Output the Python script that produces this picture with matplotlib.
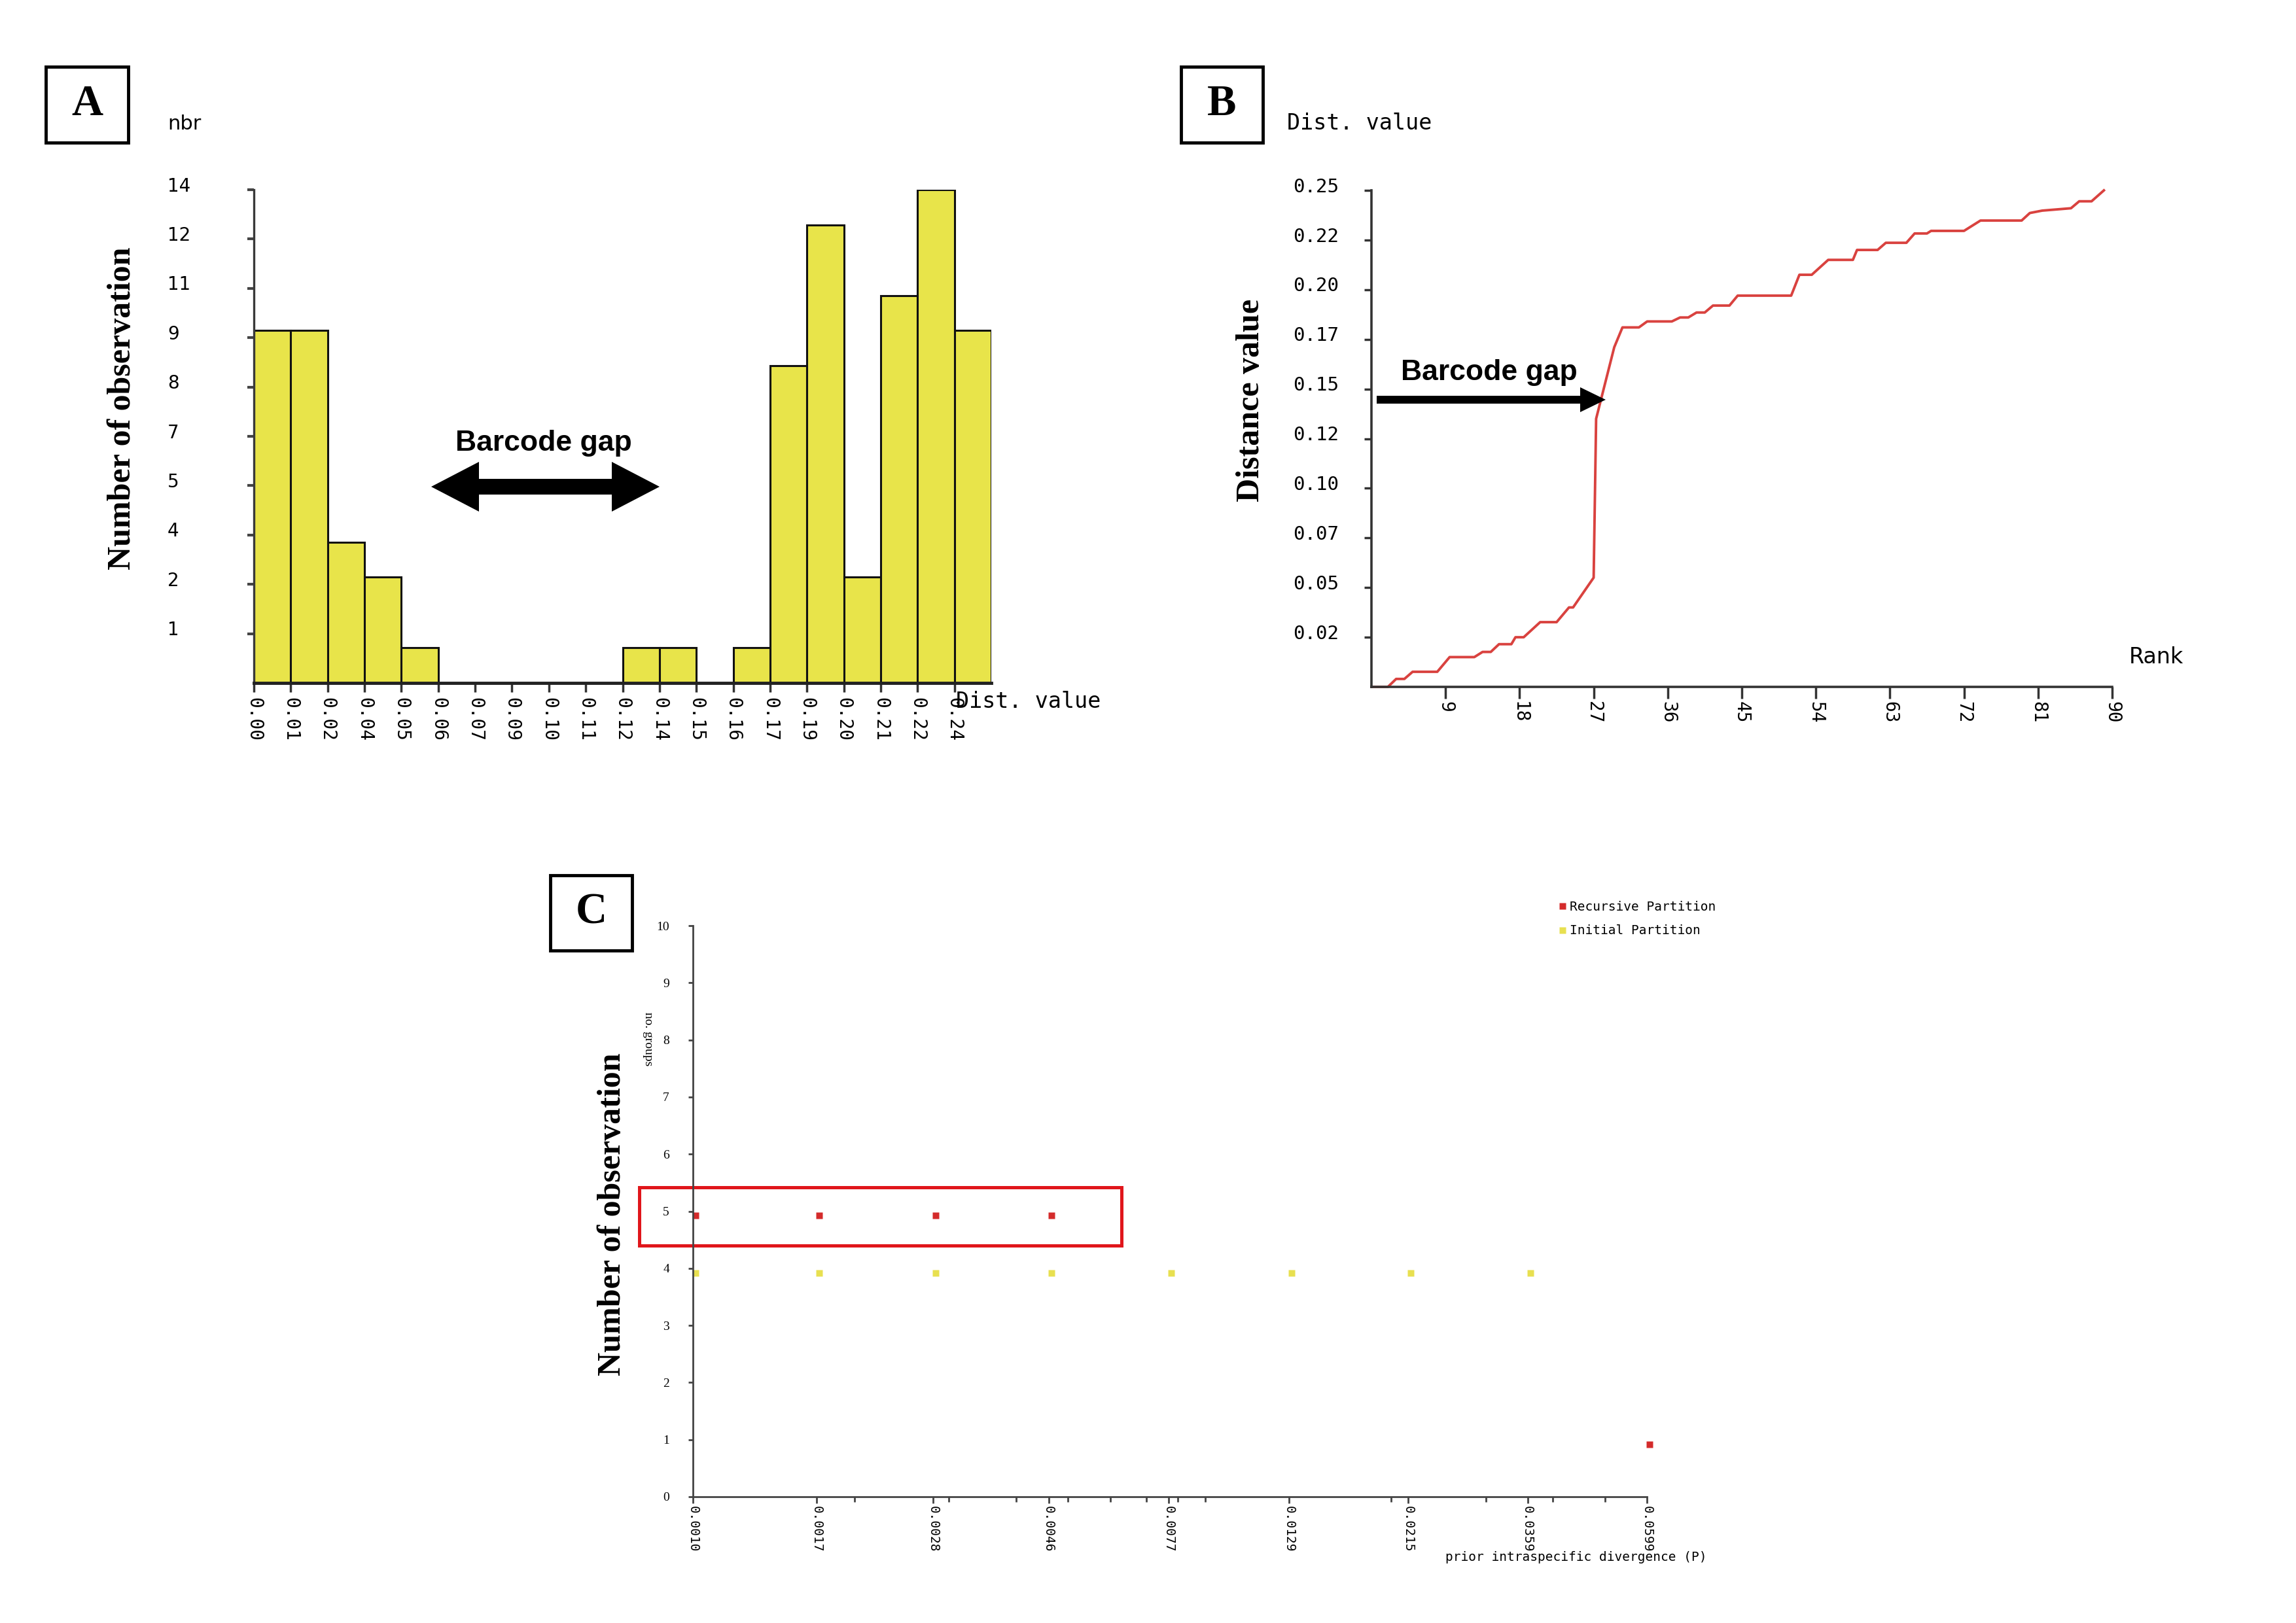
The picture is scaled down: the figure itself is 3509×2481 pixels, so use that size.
import numpy as np
import matplotlib
matplotlib.use('Agg')
import matplotlib.pyplot as plt
from matplotlib import ticker, transforms
from matplotlib.patches import Rectangle, Polygon

# figure size in pixels (dpi 100)
W, H = 3509, 2481

# panel A - histogram of distances
dist_labels = ["0.00", "0.01", "0.02", "0.04", "0.05", "0.06", "0.07", "0.09", "0.10", "0.11",
               "0.12", "0.14", "0.15", "0.16", "0.17", "0.19", "0.20", "0.21", "0.22", "0.24"]
counts = [10, 10, 4, 3, 1, 0, 0, 0, 0, 0, 1, 1, 0, 1, 9, 13, 3, 11, 14, 10]
count_ticks = [1.4, 2.8, 4.2, 5.6, 7.0, 8.4, 9.8, 11.2, 12.6, 14.0]
count_tick_labels = ["1", "2", "4", "5", "7", "8", "9", "11", "12", "14"]

# panel B - ranked distances
rank = [0, 2, 3, 4, 5, 8, 9.5, 12.5, 13.5, 14.5, 15.5, 17, 17.5, 18.5, 20.5, 22.5, 24, 24.5, 27, 27.3,
        29.5, 30.5, 32.5, 33.5, 36.5, 37.5, 38.5, 39.5, 40.5, 41.5, 43.5, 44.5, 51, 52, 53.5, 55.5,
        58.5, 59, 61.5, 62.5, 65, 66, 67.5, 68, 72, 74, 79, 80, 81.5, 85, 86, 87.5, 89]
dist = [0, 0, 0.004, 0.004, 0.0076, 0.0076, 0.015, 0.015, 0.0176, 0.0176, 0.0215, 0.0215, 0.025, 0.025,
        0.0326, 0.0326, 0.040, 0.040, 0.055, 0.135, 0.171, 0.181, 0.181, 0.184, 0.184, 0.186, 0.186,
        0.1885, 0.1885, 0.192, 0.192, 0.197, 0.197, 0.2075, 0.2075, 0.215, 0.215, 0.220, 0.220, 0.2236,
        0.2236, 0.2283, 0.2283, 0.2296, 0.2296, 0.2348, 0.2348, 0.2386, 0.2398, 0.241, 0.2445, 0.2445, 0.25]
rank_ticks = [9, 18, 27, 36, 45, 54, 63, 72, 81, 90]
dist_ticks = [0.025, 0.05, 0.075, 0.10, 0.125, 0.15, 0.175, 0.20, 0.225, 0.25]
dist_tick_labels = ["0.02", "0.05", "0.07", "0.10", "0.12", "0.15", "0.17", "0.20", "0.22", "0.25"]

# panel C - partitions per prior divergence
prior_div = [0.0010, 0.0017, 0.0028, 0.0046, 0.0077, 0.0129, 0.0215, 0.0359, 0.0599]
prior_labels = ["0.0010", "0.0017", "0.0028", "0.0046", "0.0077", "0.0129", "0.0215", "0.0359", "0.0599"]
rec_x = [0.0010, 0.0017, 0.0028, 0.0046, 0.0599]
rec_groups = [5, 5, 5, 5, 1]
init_x = [0.0010, 0.0017, 0.0028, 0.0046, 0.0077, 0.0129, 0.0215, 0.0359]
init_groups = [4, 4, 4, 4, 4, 4, 4, 4]

MONO = 'DejaVu Sans Mono'
SANS = 'DejaVu Sans'
SERIF = 'Liberation Serif'
ARIAL = 'Liberation Sans'


def fx(x):
    return x / W


def fy(y):
    return 1 - y / H


def px(x, y):
    return (x, H - y)


def axes_box(l, t, r, b):
    return [fx(l), fy(b), fx(r) - fx(l), fy(t) - fy(b)]


def panel_letter(letter, l, t, r, b):
    fig.add_artist(Rectangle((fx(l), fy(b)), fx(r) - fx(l), fy(t) - fy(b), transform=fig.transFigure,
                             fill=False, ec='black', lw=3.5))
    fig.text(fx((l + r) / 2), fy((t + b) / 2), letter, fontfamily=SERIF, fontweight='bold',
             fontsize=48, ha='center', va='center')


def double_arrow(x0, x1, yc, hl, hh, sh):
    v = [(x0, yc), (x0 + hl, yc - hh), (x0 + hl, yc - sh), (x1 - hl, yc - sh), (x1 - hl, yc - hh),
         (x1, yc), (x1 - hl, yc + hh), (x1 - hl, yc + sh), (x0 + hl, yc + sh), (x0 + hl, yc + hh)]
    fig.add_artist(Polygon([px(*p) for p in v], closed=True, fc='black', ec='none',
                           transform=transforms.IdentityTransform()))


def right_arrow(x0, x1, yc, hl, hh, sh):
    v = [(x0, yc - sh), (x1 - hl, yc - sh), (x1 - hl, yc - hh), (x1, yc),
         (x1 - hl, yc + hh), (x1 - hl, yc + sh), (x0, yc + sh)]
    fig.add_artist(Polygon([px(*p) for p in v], closed=True, fc='black', ec='none',
                           transform=transforms.IdentityTransform()))


fig = plt.figure(figsize=(W / 100, H / 100), dpi=100)
fig.patch.set_facecolor('white')
shift = transforms.ScaledTranslation(0, 6 / 72, fig.dpi_scale_trans)

#==============================================
# A : histogram
#==============================================
axA = fig.add_axes(axes_box(388, 290, 1515, 1044))
pos = np.arange(len(counts))
axA.bar(pos, counts, width=1, align='edge', color='#e8e44a', edgecolor='#111111', linewidth=2.2)
axA.set_xlim(0, 20)
axA.set_ylim(0, 14)
for s in ['top', 'right']:
    axA.spines[s].set_visible(False)
axA.spines['left'].set_linewidth(2.4)
axA.spines['left'].set_color('#3a3a3a')
axA.spines['bottom'].set_linewidth(3.5)
axA.spines['bottom'].set_color('#222222')
axA.set_xticks(pos)
axA.set_xticklabels(dist_labels, rotation=-90, fontfamily=MONO, fontsize=20, va='top', ha='center')
axA.set_yticks(count_ticks)
axA.set_yticklabels(count_tick_labels, fontfamily=SANS, fontsize=20)
axA.tick_params(axis='x', length=10, width=2.5, color='#333333', pad=6)
axA.tick_params(axis='y', length=7, width=3, color='#444444', pad=88)
for lbl in axA.get_yticklabels():
    lbl.set_horizontalalignment('left')
    lbl.set_transform(lbl.get_transform() + shift)

fig.text(fx(256), fy(198), 'nbr', fontfamily=SANS, fontsize=22, ha='left', va='baseline')
fig.text(fx(1461), fy(1072), 'Dist. value', fontfamily=MONO, fontsize=24, ha='left', va='center')
fig.text(fx(187), fy(624), 'Number of observation', fontfamily=SERIF, fontweight='bold',
         fontsize=36, rotation=90, ha='center', va='center')
fig.text(fx(831), fy(678), 'Barcode gap', fontfamily=ARIAL, fontweight='bold', fontsize=32,
         ha='center', va='center')
double_arrow(659, 1008, 744, 73, 38, 12)
panel_letter('A', 70, 102, 196, 218)

#==============================================
# B : ranked distances
#==============================================
axB = fig.add_axes(axes_box(2096, 291, 3228, 1050))
axB.plot(rank, dist, color='#d9423f', lw=2.8, clip_on=False)
axB.set_xlim(0, 90)
axB.set_ylim(0, 0.25)
for s in ['top', 'right']:
    axB.spines[s].set_visible(False)
for s in ['left', 'bottom']:
    axB.spines[s].set_linewidth(2.6)
    axB.spines[s].set_color('#333333')
axB.set_xticks(rank_ticks)
axB.set_xticklabels([str(r) for r in rank_ticks], rotation=-90, fontfamily=MONO, fontsize=20,
                    va='top', ha='center')
axB.set_yticks(dist_ticks)
axB.set_yticklabels(dist_tick_labels, fontfamily=MONO, fontsize=21)
axB.tick_params(axis='x', length=13, width=2.5, color='#333333', pad=3)
axB.tick_params(axis='y', length=8, width=2.5, color='#333333', pad=28)
for lbl in axB.get_yticklabels():
    lbl.set_transform(lbl.get_transform() + shift)

fig.text(fx(1967), fy(189), 'Dist. value', fontfamily=MONO, fontsize=24, ha='left', va='center')
fig.text(fx(3254), fy(1005), 'Rank', fontfamily=SANS, fontsize=24, ha='left', va='center')
fig.text(fx(1912), fy(612), 'Distance value', fontfamily=SERIF, fontweight='bold',
         fontsize=36, rotation=90, ha='center', va='center')
fig.text(fx(2276), fy(570), 'Barcode gap', fontfamily=ARIAL, fontweight='bold', fontsize=32,
         ha='center', va='center')
right_arrow(2104, 2454, 611, 39, 19, 6)
panel_letter('B', 1805, 102, 1930, 218)

#==============================================
# C : number of groups
#==============================================
axC = fig.add_axes(axes_box(1059, 1415, 2517, 2288))
axC.set_xscale('log')
# the original program draws its squares a few pixels right of / below the value
nudge = transforms.ScaledTranslation(3 / 72, -5 / 72, fig.dpi_scale_trans)
axC.plot(rec_x, rec_groups, 's', color='#d42b2b', ms=7, mec='none', label='Recursive Partition',
         clip_on=False, transform=axC.transData + nudge)
axC.plot(init_x, init_groups, 's', color='#e8e050', ms=7, mec='none', label='Initial Partition',
         clip_on=False, transform=axC.transData + nudge)
axC.set_xlim(prior_div[0], prior_div[-1])
axC.set_ylim(0, 10)
for s in ['top', 'right']:
    axC.spines[s].set_visible(False)
for s in ['left', 'bottom']:
    axC.spines[s].set_linewidth(2.0)
    axC.spines[s].set_color('#444444')
axC.xaxis.set_major_locator(ticker.FixedLocator(prior_div))
axC.xaxis.set_minor_locator(ticker.LogLocator(base=10, subs=np.arange(2, 10)))
axC.xaxis.set_minor_formatter(ticker.NullFormatter())
axC.set_xticklabels(prior_labels, rotation=-90, fontfamily=MONO, fontsize=14, va='top', ha='center')
axC.set_yticks(range(0, 11))
axC.set_yticklabels([str(v) for v in range(0, 11)], fontfamily=SERIF, fontsize=14)
axC.tick_params(axis='x', which='major', length=7, width=2, color='#444444', pad=3)
axC.tick_params(axis='x', which='minor', length=6, width=2, color='#444444')
axC.tick_params(axis='y', length=5, width=2, color='#444444', pad=21)

# red frame round the recursive partition points
box = Rectangle((-0.056, 4.40), 0.505, 1.02,
                transform=transforms.blended_transform_factory(axC.transAxes, axC.transData),
                fill=False, ec='#e0161b', lw=3.6, clip_on=False)
axC.add_patch(box)

axC.legend(loc='upper left', bbox_to_anchor=(fx(2383), fy(1377)), bbox_transform=fig.transFigure,
           frameon=False, prop={'family': MONO, 'size': 14}, handlelength=0.5, handletextpad=0.3,
           borderpad=0, borderaxespad=0, labelspacing=0.9, markerscale=1.0)

fig.text(fx(2209), fy(2381), 'prior intraspecific divergence (P)', fontfamily=MONO, fontsize=14,
         ha='left', va='center')
fig.text(fx(990), fy(1588), 'no. groups', fontfamily=SERIF, fontsize=14, rotation=-90,
         ha='center', va='center')
fig.text(fx(936), fy(1856), 'Number of observation', fontfamily=SERIF, fontweight='bold',
         fontsize=36, rotation=90, ha='center', va='center')
panel_letter('C', 841, 1338, 966, 1453)

fig.savefig('out.png', dpi=100, facecolor='white')
